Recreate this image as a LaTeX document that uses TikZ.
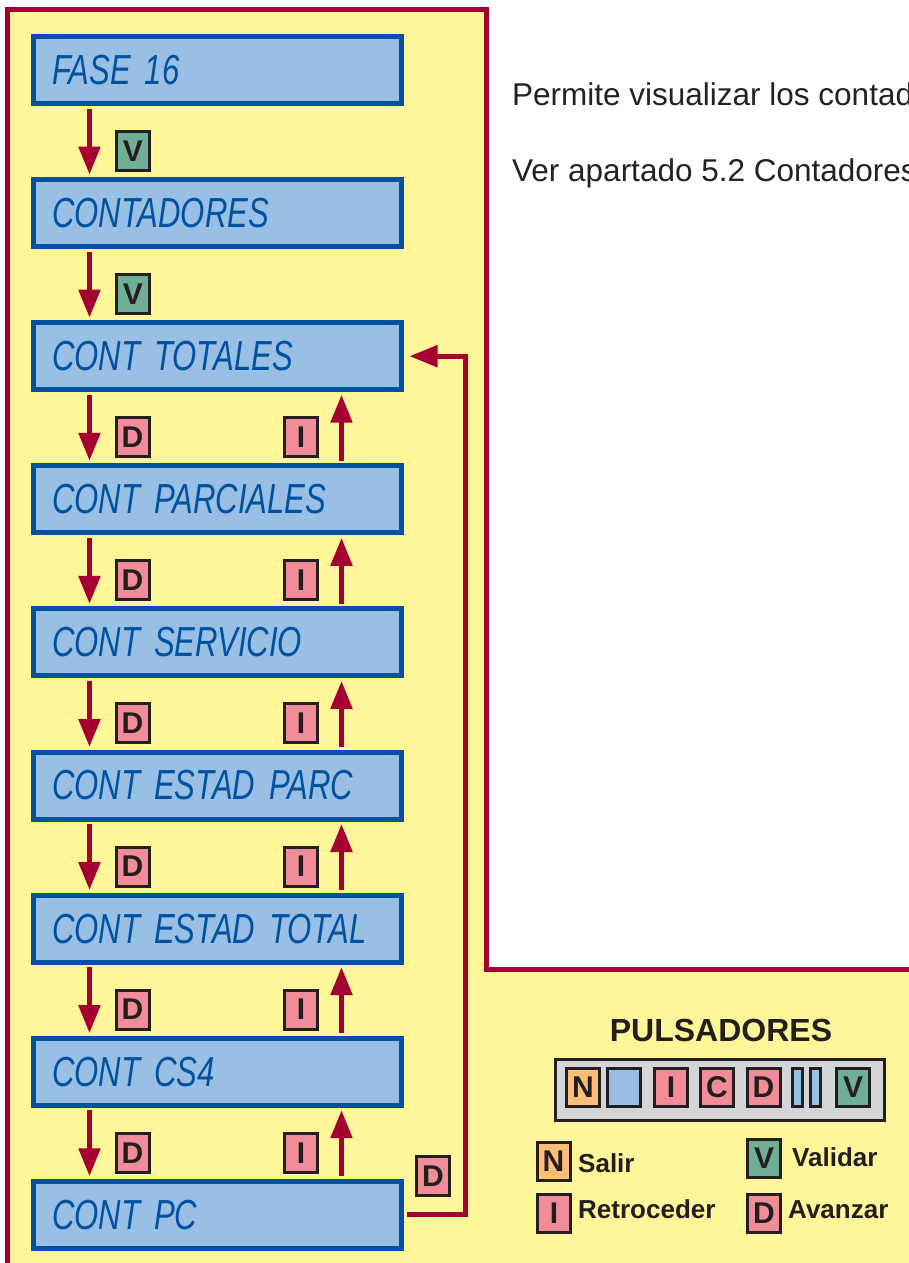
\documentclass[tikz,border=0pt]{standalone}
\usepackage{fontspec}
\setmainfont{Liberation Sans}
\newfontfamily\lcdfont{Liberation Sans}[FakeStretch=0.74]
\usetikzlibrary{arrows.meta}
\definecolor{bg}{HTML}{FFF599}
\definecolor{frame}{HTML}{A60032}
\definecolor{lcdfill}{HTML}{99BFE5}
\definecolor{lcdedge}{HTML}{0052A0}
\definecolor{keyV}{HTML}{6FAF96}
\definecolor{keyP}{HTML}{F28C99}
\definecolor{keyN}{HTML}{FDBE75}
\definecolor{bargrey}{HTML}{D4D5D7}
\definecolor{ink}{HTML}{231F20}
\definecolor{txt}{HTML}{222222}
\begin{document}
\begin{tikzpicture}[x=1pt,y=-1pt,
  lcd/.style={draw=lcdedge, line width=5pt, fill=lcdfill, minimum width=368pt, minimum height=67pt, inner sep=0pt, text width=331pt, align=left, text=lcdedge, font=\lcdfont\itshape\fontsize{42}{42}\selectfont},
  key/.style={draw=ink, line width=3pt, minimum width=33pt, minimum height=39pt, inner sep=0pt, text=ink, font=\bfseries\fontsize{30}{30}\selectfont},
  smallkey/.style={key, minimum height=38pt},
  thinkey/.style={draw=ink, line width=3pt, minimum width=10pt, minimum height=38pt, inner sep=0pt, fill=lcdfill},
  flow/.style={draw=frame, line width=5.3pt, -{Triangle[length=28pt,width=21pt]}, shorten >=2.5pt, shorten <=2.5pt},
  legtext/.style={anchor=base west, inner sep=0pt, text=ink, font=\bfseries\fontsize{26}{26}\selectfont},
  note/.style={anchor=base west, inner sep=0pt, text=txt, font=\fontsize{31.5}{31.5}\selectfont}]
\useasboundingbox (0,0) rectangle (909,1263);
\fill[white] (0,0) rectangle (909,1263);
\fill[bg] (7,10) -- (486,10) -- (486,969) -- (909,969) -- (909,1263) -- (7,1263) -- cycle;
\draw[frame, line width=5pt] (7,1263) -- (7,10) -- (486,10) -- (486,969) -- (909,969);
% note text
\begin{scope}
\clip (489,12) rectangle (909,966);
\node[note] (n1) at (512,105) {Permite visualizar los contadores};
\node[note] (n2) at (512,181) {Ver apartado 5.2 Contadores};
\end{scope}
% display boxes
\foreach \t [count=\i] in {FASE 16, CONTADORES, CONT TOTALES, CONT PARCIALES, CONT SERVICIO, CONT ESTAD PARC, CONT ESTAD TOTAL, CONT CS4, CONT PC}
  \node[lcd] (b\i) at (217.5, {70+143.1*(\i-1)}) {\t};
% down arrows
\foreach \i/\j in {1/2,2/3,3/4,4/5,5/6,6/7,7/8,8/9}
  \draw[flow] ([xshift=58.5pt]b\i.south west) -- ([xshift=58.5pt]b\j.north west);
% up arrows
\foreach \i/\j in {3/4,4/5,5/6,6/7,7/8,8/9}
  \draw[flow] ([xshift=310.5pt]b\j.north west) -- ([xshift=310.5pt]b\i.south west);
% loop
\coordinate (lp) at ([xshift=61.5pt]b3.east);
\draw[flow, shorten >=5.5pt] (b9.east) -| (lp) -- (b3.east);
% labels
\node[key, fill=keyV] (v1) at (133,151) {V};
\node[key, fill=keyV] (v2) at (133,294.1) {V};
\foreach \k in {2,...,7} {
  \node[key, fill=keyP] (d\k) at (132.5,{151+143.1*\k}) {D};
  \node[key, fill=keyP] (i\k) at (301,{151+143.1*\k}) {I};
}
\node[key, fill=keyP] (dl) at (433,1176) {D};
% legend
\node[inner sep=0pt, text=ink, font=\bfseries\fontsize{32}{32}\selectfont] (title) at (721,1030) {PULSADORES};
\node[draw=ink, line width=3pt, fill=bargrey, minimum width=329pt, minimum height=61pt, inner sep=0pt] (bar) at (720,1090) {};
\node[smallkey, fill=keyN] (kN) at (583,1087.5) {N};
\node[smallkey, fill=lcdfill] (kB) at (624,1087.5) {};
\node[smallkey, fill=keyP] (kI) at (671,1087.5) {I};
\node[smallkey, fill=keyP] (kC) at (717,1087.5) {C};
\node[smallkey, fill=keyP] (kD) at (763.5,1087.5) {D};
\node[thinkey] (kb1) at (797.5,1087.5) {};
\node[thinkey] (kb2) at (815.5,1087.5) {};
\node[smallkey, fill=keyV] (kV) at (853,1087.5) {V};
\node[smallkey, fill=keyN] (lN) at (553.5,1161.5) {N};
\node[smallkey, fill=keyP] (lI) at (554,1213) {I};
\node[smallkey, fill=keyV] (lV) at (764,1158.5) {V};
\node[smallkey, fill=keyP] (lD) at (764,1213.5) {D};
\node[legtext] (tN) at (578,1172) {Salir};
\node[legtext] (tI) at (578,1218) {Retroceder};
\node[legtext] (tV) at (792,1166) {Validar};
\node[legtext] (tD) at (788,1218) {Avanzar};
\end{tikzpicture}
\end{document}
